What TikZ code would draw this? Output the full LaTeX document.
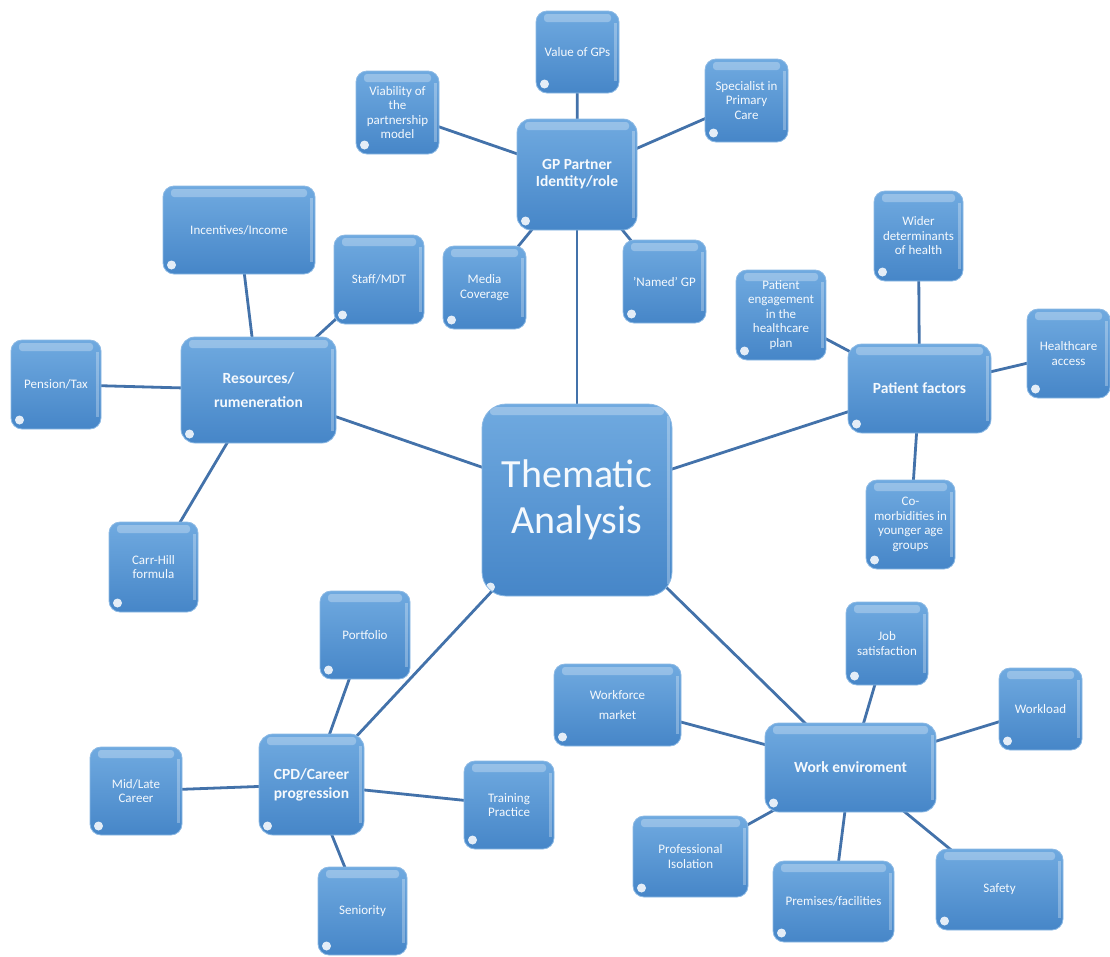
\documentclass[tikz,border=0pt]{standalone}
\usepackage{fontspec}
\setmainfont{Carlito}
\usetikzlibrary{backgrounds}
\definecolor{boxtop}{RGB}{112,170,224}
\definecolor{boxbot}{RGB}{70,134,200}
\definecolor{boxedge}{RGB}{140,185,228}
\definecolor{linkc}{RGB}{67,114,170}
\definecolor{txt}{RGB}{245,249,253}
\tikzset{
 box/.style={rectangle, rounded corners=11pt, draw=boxedge, line width=0.8pt,
   top color=boxtop, bottom color=boxbot, text=txt, align=center, inner sep=0pt,
   font=\fontsize{13}{14.5}\selectfont,
   path picture={
     \fill[white,opacity=.28,rounded corners=3pt]
       ([shift={(8pt,-3pt)}]path picture bounding box.north west) rectangle
       ([shift={(-8pt,-11pt)}]path picture bounding box.north east);
     \fill[white,opacity=.28,sharp corners]
       ([shift={(-5pt,-12pt)}]path picture bounding box.north east) rectangle
       ([shift={(-2pt,12pt)}]path picture bounding box.south east);
     \fill[white,opacity=.85]
       ([shift={(8.5pt,9pt)}]path picture bounding box.south west) circle (4.5pt);
   }},
 topic/.style={box, rounded corners=14pt, font=\fontsize{15.5}{17}\selectfont\bfseries},
 hub/.style={box, rounded corners=24pt, font=\fontsize{40}{46}\selectfont},
 link/.style={draw=linkc, line width=2.8pt},
}
\begin{document}
\begin{tikzpicture}[x=1pt,y=-1pt]
\useasboundingbox (0,0) rectangle (1110,956);
% hub
\node[hub, minimum width=190, minimum height=192] (th) at (577,500) {Thematic\\Analysis};
% GP partner
\node[topic, minimum width=120, minimum height=111] (gp) at (577,174.5) {GP Partner\\Identity/role};
\node[box, minimum width=83, minimum height=82] (val) at (577.5,52) {Value of GPs};
\node[box, minimum width=83, minimum height=83] (via) at (397.5,112.5) {Viability of\\the\\partnership\\model};
\node[box, minimum width=83, minimum height=83] (spe) at (746.5,100.5) {Specialist in\\Primary\\Care};
\node[box, minimum width=83, minimum height=83] (med) at (484.5,287.5) {Media\\Coverage};
\node[box, minimum width=83, minimum height=83] (nam) at (664.5,281.5) {'Named' GP};
% resources
\node[topic, minimum width=155, minimum height=106] (res) at (258.5,390) {Resources/\\[7pt]rumeneration};
\node[box, minimum width=152, minimum height=88] (inc) at (239,230) {Incentives/Income};
\node[box, minimum width=90, minimum height=89] (sta) at (379,279.5) {Staff/MDT};
\node[box, minimum width=90, minimum height=89] (pen) at (56,384.5) {Pension/Tax};
\node[box, minimum width=89, minimum height=90] (car) at (153.5,567) {Carr-Hill\\formula};
% patient factors
\node[topic, minimum width=143, minimum height=89] (pf) at (919.5,388.5) {Patient factors};
\node[box, minimum width=89, minimum height=90] (wid) at (918.5,236) {Wider\\determinants\\of health};
\node[box, minimum width=90, minimum height=90] (eng) at (781,315) {Patient\\engagement\\in the\\healthcare\\plan};
\node[box, minimum width=83, minimum height=89] (hca) at (1068.5,353.5) {Healthcare\\access};
\node[box, minimum width=89, minimum height=89] (com) at (910.5,524.5) {Co-\\morbidities in\\younger age\\groups};
% CPD
\node[topic, minimum width=105, minimum height=101] (cpd) at (311.5,784.5) {CPD/Career\\[2pt]progression};
\node[box, minimum width=90, minimum height=88] (por) at (365,635) {Portfolio};
\node[box, minimum width=92, minimum height=88] (mid) at (136,791) {Mid/Late\\Career};
\node[box, minimum width=90, minimum height=88] (tra) at (509,805) {Training\\Practice};
\node[box, minimum width=89, minimum height=88] (sen) at (362.5,911) {Seniority};
% work environment
\node[topic, minimum width=171, minimum height=89] (wk) at (850.5,767.5) {Work enviroment};
\node[box, minimum width=127, minimum height=82] (wf) at (617.5,705) {Workforce\\[5.5pt]market};
\node[box, minimum width=82, minimum height=83] (job) at (887,643.5) {Job\\satisfaction};
\node[box, minimum width=83, minimum height=82] (wl) at (1040.5,709) {Workload};
\node[box, minimum width=115, minimum height=81] (pi) at (690.5,856.5) {Professional\\Isolation};
\node[box, minimum width=121, minimum height=81] (pre) at (833.5,901.5) {Premises/facilities};
\node[box, minimum width=127, minimum height=81] (saf) at (999.5,889.5) {Safety};
% connectors
\begin{pgfonlayer}{background}
\foreach \a/\b in {th/gp, th/res, th/pf, th/cpd, th/wk,
  gp/val, gp/via, gp/spe, gp/med, gp/nam,
  res/inc, res/sta, res/pen, res/car,
  pf/wid, pf/eng, pf/hca, pf/com,
  cpd/por, cpd/mid, cpd/tra, cpd/sen,
  wk/wf, wk/job, wk/wl, wk/pi, wk/pre, wk/saf}
  \draw[link] (\a.center) -- (\b.center);
\end{pgfonlayer}
\end{tikzpicture}
\end{document}
